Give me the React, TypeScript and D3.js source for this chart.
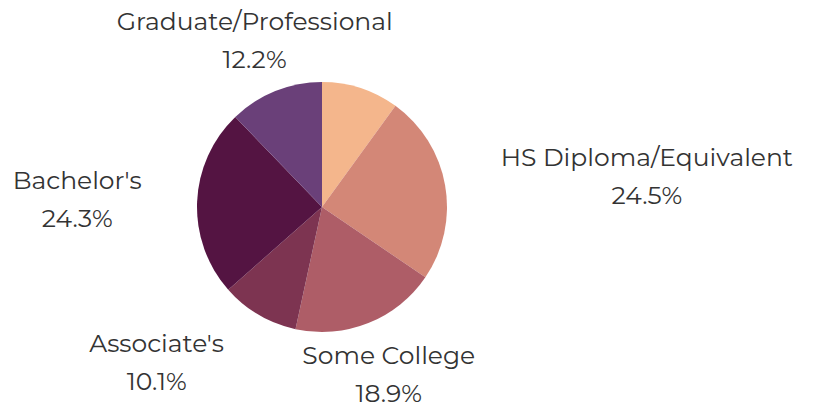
import React, { useEffect, useRef } from "react";
import * as d3 from "d3";

const categories = [
  "Less than HS",
  "HS Diploma/Equivalent",
  "Some College",
  "Associate's",
  "Bachelor's",
  "Graduate/Professional",
];
const shares = [10.0, 24.5, 18.9, 10.1, 24.3, 12.2];
const colors = ["#F4B68C", "#D38777", "#AE5D67", "#7D3451", "#541442", "#6A4079"];

const W = 817;
const H = 407;

export default function App() {
  const ref = useRef<SVGSVGElement>(null);

  useEffect(() => {
    const svg = d3.select(ref.current);
    svg.selectAll("*").remove();
    const cx = 322;
    const cy = 207;
    const r = 125;
    const labelR = 180;
    const lineGap = 38;

    const data = categories.map((c, i) => ({ c, v: shares[i], color: colors[i] }));
    const pie = d3
      .pie<any>()
      .sort(null)
      .value((d) => d.v)
      .startAngle(0)
      .endAngle(2 * Math.PI);
    const arcs = pie(data);
    const arc = d3.arc<any>().innerRadius(0).outerRadius(r);

    const g = svg.append("g").attr("transform", `translate(${cx},${cy})`);
    g.selectAll("path")
      .data(arcs)
      .join("path")
      .attr("d", arc)
      .attr("fill", (d) => d.data.color);

    const labels = svg.append("g");
    const order = d3.range(arcs.length).sort((a, b) => arcs[b].data.v - arcs[a].data.v);
    const placed: { x0: number; x1: number; y0: number; y1: number }[] = [];
    order.forEach((i) => {
      const a = arcs[i];
      const th = (a.startAngle + a.endAngle) / 2;
      const s = Math.sin(th);
      const c = Math.cos(th);
      const ax = cx + labelR * s;
      const ay = cy - labelR * c;
      const t = labels
        .append("text")
        .attr("text-anchor", "middle")
        .attr("font-family", "Montserrat, 'DejaVu Sans', sans-serif")
        .attr("font-size", 25)
        .attr("fill", "#333333");
      t.append("tspan").attr("x", 0).attr("y", -lineGap / 2).attr("dy", "0.35em").text(a.data.c);
      t.append("tspan")
        .attr("x", 0)
        .attr("y", lineGap / 2)
        .attr("dy", "0.35em")
        .text(`${a.data.v.toFixed(1)}%`);
      const bb = (t.node() as SVGTextElement).getBBox();
      const w = bb.width;
      const shift = Math.abs(s) > 0.45 ? Math.sign(s) * (w / 2 + 8 * Math.abs(c)) : 0;
      const x = ax + shift;
      const y = ay;
      const box = { x0: x + bb.x, x1: x + bb.x + bb.width, y0: y + bb.y, y1: y + bb.y + bb.height };
      const hit = placed.some(
        (p) => !(box.x1 < p.x0 || box.x0 > p.x1 || box.y1 < p.y0 || box.y0 > p.y1)
      );
      if (hit) {
        t.remove();
        return;
      }
      placed.push(box);
      t.attr("transform", `translate(${x},${y})`);
    });
  }, []);

  return (
    <svg
      ref={ref}
      width={W}
      height={H}
      style={{ position: "absolute", left: 0, top: 0, background: "#fff" }}
    />
  );
}
